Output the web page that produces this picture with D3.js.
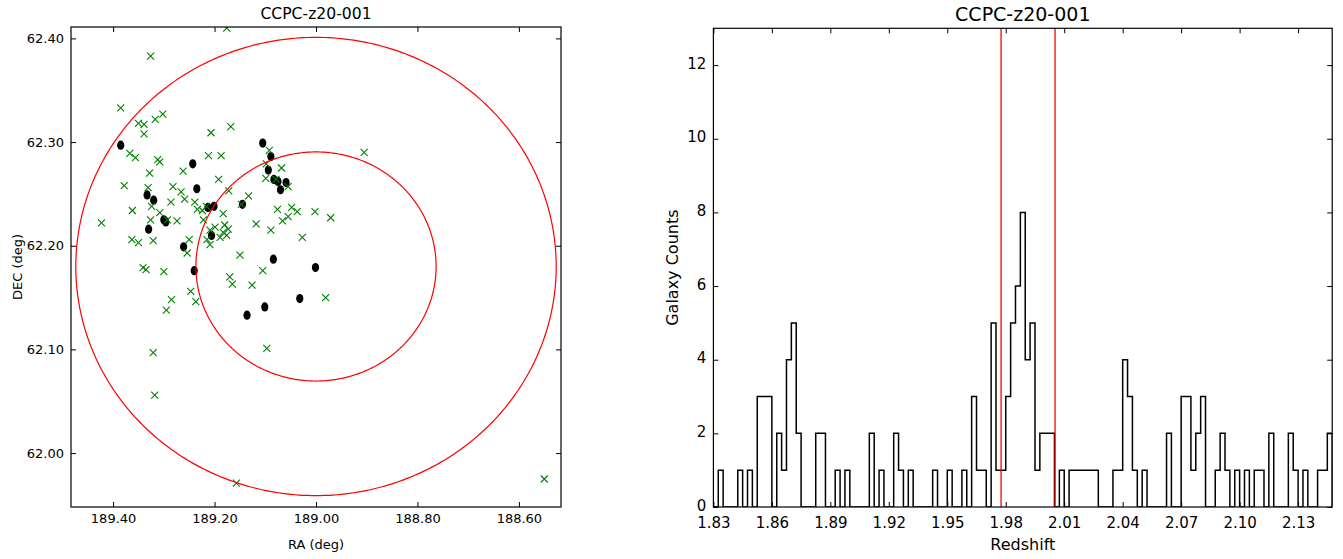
<!DOCTYPE html>
<html><head><meta charset="utf-8">
<script src="https://cdn.jsdelivr.net/npm/d3@7"></script>
<style>
body{margin:0;background:#fff}
text{font-family:"DejaVu Sans",sans-serif;fill:#000}
</style>
</head><body>
<svg id="c" width="1343" height="559"></svg>
<script>
// ---------- DATA ----------
const titleText = "CCPC-z20-001";
// cluster members (black dots)
const memberRA  = [189.385,189.333,189.320,189.300,189.296,189.330,189.261,189.243,189.235,189.240,189.213,189.201,189.206,189.145,189.105,189.089,189.094,189.083,189.075,189.059,189.070,189.084,189.001,189.032,189.101,189.136];
const memberDEC = [62.297,62.249,62.244,62.225,62.223,62.216,62.199,62.279,62.255,62.176,62.237,62.238,62.210,62.240,62.299,62.286,62.273,62.264,62.262,62.261,62.254,62.187,62.179,62.149,62.141,62.133];
// field galaxies (green x)
const fieldRA  = [189.176,189.326,189.385,189.350,189.339,189.339,189.317,189.302,189.207,189.168,189.367,189.356,189.312,189.308,189.328,189.262,189.212,189.187,189.378,189.331,189.282,189.266,189.259,189.192,189.172,189.133,189.092,189.068,189.098,189.099,189.079,189.055,188.905,189.423,189.362,189.324,189.308,189.286,189.326,189.293,189.274,189.239,189.234,189.224,189.216,189.222,189.183,189.147,189.363,189.350,189.321,189.250,189.254,189.341,189.335,189.300,189.215,189.209,189.209,189.180,189.173,189.183,189.189,189.176,189.199,189.118,189.089,189.076,189.048,189.037,189.055,189.066,189.002,188.971,189.027,189.150,189.105,189.170,189.165,189.126,189.247,189.237,189.285,189.295,188.981,189.097,189.321,189.318,189.157,188.550];
const fieldDEC = [62.410,62.383,62.333,62.318,62.317,62.308,62.322,62.327,62.309,62.315,62.289,62.285,62.283,62.281,62.270,62.272,62.287,62.287,62.258,62.256,62.257,62.252,62.245,62.264,62.253,62.248,62.292,62.275,62.279,62.265,62.264,62.257,62.290,62.222,62.234,62.238,62.232,62.242,62.225,62.225,62.224,62.242,62.235,62.234,62.238,62.225,62.231,62.240,62.206,62.203,62.205,62.206,62.193,62.179,62.177,62.175,62.206,62.201,62.215,62.220,62.216,62.213,62.208,62.210,62.218,62.221,62.215,62.235,62.237,62.233,62.228,62.224,62.233,62.227,62.208,62.191,62.176,62.170,62.163,62.162,62.156,62.146,62.148,62.138,62.150,62.101,62.097,62.056,61.971,61.975];
const circleCenter = [189.0, 62.18];   // RA, DEC
const circleRadii  = [0.1105, 0.221];  // deg
const raDomain  = [189.483, 188.517];
const decDomain = [61.948, 62.411];
const raTicks  = [189.4, 189.2, 189.0, 188.8, 188.6];
const decTicks = [62.0, 62.1, 62.2, 62.3, 62.4];

// redshift histogram
const binStart = 1.83, binWidth = 0.0025;
const histCounts = [0,1,0,0,0,1,0,1,0,3,3,3,0,2,1,4,5,2,0,0,0,2,2,0,0,1,0,1,0,0,0,0,2,0,1,0,0,2,1,0,1,0,0,0,0,1,0,0,1,0,0,1,0,3,1,1,0,5,1,1,3,5,6,8,4,5,1,2,2,2,0,1,0,1,1,1,1,1,1,0,0,0,1,1,4,3,1,0,1,0,0,0,0,2,0,0,3,3,1,2,3,0,0,1,2,1,0,1,0,1,0,1,1,0,2,0,0,0,2,1,0,1,0,0,1,1,2];
const zLimits = [1.9776, 2.0053];
const zTicks = [1.83,1.86,1.89,1.92,1.95,1.98,2.01,2.04,2.07,2.10,2.13];
const countTicks = [0,2,4,6,8,10,12];
const countMax = 13;

// ---------- DRAW ----------
const svg = d3.select("#c");
const fmt2 = d3.format(".2f");

// ----- left panel -----
const L = {x0:71, x1:561, y0:27, y1:507};
const xs = d3.scaleLinear().domain(raDomain).range([L.x0, L.x1]);
const ys = d3.scaleLinear().domain(decDomain).range([L.y1, L.y0]);
const gL = svg.append("g");
gL.append("defs").append("clipPath").attr("id","clipL")
  .append("rect").attr("x",L.x0).attr("y",L.y0).attr("width",L.x1-L.x0).attr("height",L.y1-L.y0);
const plotL = gL.append("g").attr("clip-path","url(#clipL)");

plotL.selectAll("ellipse.m").data(memberRA.map((r,i)=>[r,memberDEC[i]])).enter()
  .append("ellipse").attr("cx",d=>xs(d[0])).attr("cy",d=>ys(d[1]))
  .attr("rx",3.6).attr("ry",4.6).attr("fill","#000");

const xm = 3.5;
plotL.selectAll("path.f").data(fieldRA.map((r,i)=>[r,fieldDEC[i]])).enter()
  .append("path")
  .attr("d",d=>{const cx=xs(d[0]),cy=ys(d[1]);return `M${cx-xm},${cy-xm}L${cx+xm},${cy+xm}M${cx-xm},${cy+xm}L${cx+xm},${cy-xm}`;})
  .attr("stroke","#008000").attr("stroke-width",1.1).attr("fill","none");

const cosd = Math.cos(circleCenter[1]*Math.PI/180);
const angles = d3.range(0,361,1);
circleRadii.forEach(r=>{
  const line = d3.line()
    .x(a=>xs(circleCenter[0] + r/cosd*Math.cos(a*Math.PI/180)))
    .y(a=>ys(circleCenter[1] + r*Math.sin(a*Math.PI/180)));
  plotL.append("path").attr("d",line(angles)).attr("fill","none")
    .attr("stroke","#ff0000").attr("stroke-width",1.2);
});

function axesFrame(g, xsc, ysc, B, xt, yt, xf, yf, fs, tl, xpad, ydy){
  g.append("g").attr("transform",`translate(0,${B.y1})`)
    .call(d3.axisBottom(xsc).tickValues(xt).tickFormat(xf).tickSize(-tl).tickPadding(xpad))
    .call(s=>{s.select(".domain").remove();s.selectAll("text").attr("font-size",fs).attr("font-family","DejaVu Sans");});
  g.append("g").attr("transform",`translate(0,${B.y0})`)
    .call(d3.axisTop(xsc).tickValues(xt).tickFormat("").tickSize(-tl))
    .call(s=>s.select(".domain").remove());
  g.append("g").attr("transform",`translate(${B.x0},0)`)
    .call(d3.axisLeft(ysc).tickValues(yt).tickFormat(yf).tickSize(-tl).tickPadding(7))
    .call(s=>{s.select(".domain").remove();s.selectAll("text").attr("font-size",fs).attr("font-family","DejaVu Sans").attr("dy",ydy);});
  g.append("g").attr("transform",`translate(${B.x1},0)`)
    .call(d3.axisRight(ysc).tickValues(yt).tickFormat("").tickSize(-tl))
    .call(s=>s.select(".domain").remove());
  g.selectAll(".tick line").attr("stroke","#000").attr("stroke-width",1);
  g.append("rect").attr("x",B.x0).attr("y",B.y0).attr("width",B.x1-B.x0).attr("height",B.y1-B.y0)
    .attr("fill","none").attr("stroke","#000").attr("stroke-width",1.2);
}
axesFrame(gL, xs, ys, L, raTicks, decTicks, fmt2, fmt2, 13, 5, 7, "0.32em");
gL.append("text").attr("x",(L.x0+L.x1)/2).attr("y",19).attr("text-anchor","middle").attr("font-size",15.6).text(titleText);
gL.append("text").attr("x",(L.x0+L.x1)/2).attr("y",549).attr("text-anchor","middle").attr("font-size",13).text("RA (deg)");
gL.append("text").attr("transform",`translate(22,${(L.y0+L.y1)/2}) rotate(-90)`).attr("text-anchor","middle").attr("font-size",13).text("DEC (deg)");

// ----- right panel -----
const R = {x0:713.4, x1:1332.2, y0:28.3, y1:507};
const binEdges = d3.range(histCounts.length+1).map(i=>binStart+i*binWidth);
const xz = d3.scaleLinear().domain([binEdges[0], binEdges[binEdges.length-1]]).range([R.x0, R.x1]);
const yc = d3.scaleLinear().domain([0,countMax]).range([R.y1, R.y0]);
const gR = svg.append("g");
gR.append("defs").append("clipPath").attr("id","clipR")
  .append("rect").attr("x",R.x0).attr("y",R.y0).attr("width",R.x1-R.x0).attr("height",R.y1-R.y0);
const plotR = gR.append("g").attr("clip-path","url(#clipR)");

let p = `M${xz(binEdges[0])},${yc(0)}`;
histCounts.forEach((c,i)=>{ p += `L${xz(binEdges[i])},${yc(c)}L${xz(binEdges[i+1])},${yc(c)}`; });
p += `L${xz(binEdges[binEdges.length-1])},${yc(0)}`;
plotR.append("path").attr("d",p).attr("fill","none").attr("stroke","#000").attr("stroke-width",1.5);

zLimits.forEach(z=>{
  plotR.append("line").attr("x1",xz(z)).attr("x2",xz(z)).attr("y1",R.y0).attr("y2",R.y1)
    .attr("stroke","#ff0000").attr("stroke-width",1.3);
});
axesFrame(gR, xz, yc, R, zTicks, countTicks, fmt2, d3.format("d"), 15, 5, 10, "0.2em");
gR.append("text").attr("x",(R.x0+R.x1)/2).attr("y",21).attr("text-anchor","middle").attr("font-size",19).text(titleText);
gR.append("text").attr("x",(R.x0+R.x1)/2).attr("y",550).attr("text-anchor","middle").attr("font-size",16).text("Redshift");
gR.append("text").attr("transform",`translate(678,${(R.y0+R.y1)/2}) rotate(-90)`).attr("text-anchor","middle").attr("font-size",16).text("Galaxy Counts");
</script>
</body></html>
